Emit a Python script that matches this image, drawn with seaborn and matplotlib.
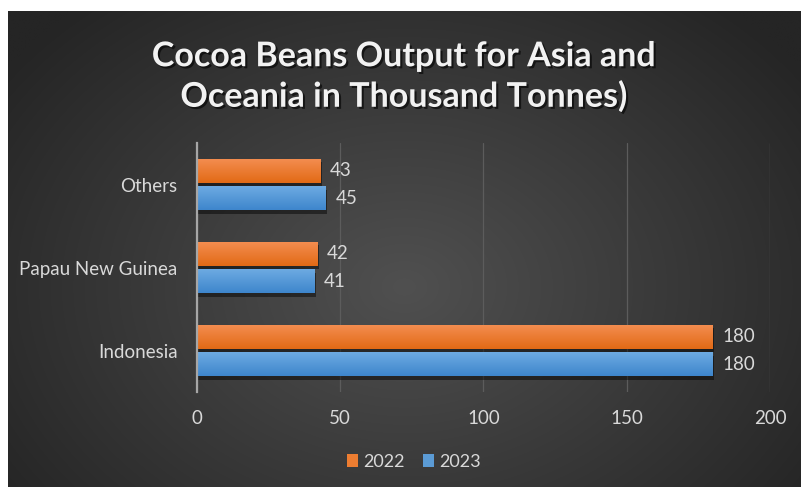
import numpy as np
import pandas as pd
import seaborn as sns
import matplotlib.pyplot as plt
import matplotlib.transforms as mtransforms
from matplotlib import patheffects as pe
from matplotlib.patches import Patch, Rectangle

# Data
regions = ["Others", "Papau New Guinea", "Indonesia"]
output_2022 = [43, 42, 180]
output_2023 = [45, 41, 180]
years = ["2022", "2023"]
x_ticks = [0, 50, 100, 150, 200]
title = "Cocoa Beans Output for Asia and\nOceania in Thousand Tonnes)"

df = pd.DataFrame({
    "Region": regions * 2,
    "Year": [years[0]] * len(regions) + [years[1]] * len(regions),
    "Output": output_2022 + output_2023,
})

sns.set_theme(style="dark")
plt.rcParams["font.family"] = ["Lato", "DejaVu Sans"]

ORANGE = "#ED7D31"
BLUE = "#5B9BD5"
LABEL = "#D9D9D9"

fig = plt.figure(figsize=(8.04, 4.87), dpi=100)
fig.patch.set_facecolor("white")

# Dark radial-gradient chart background
bg = fig.add_axes([8 / 804, 0, (801 - 8) / 804, (487 - 11) / 487])
bg.set_axis_off()
h, w = 400, 660
yy, xx = np.mgrid[0:1:h * 1j, 0:1:w * 1j]
r = np.clip(np.sqrt(((xx - 0.5) / 0.62) ** 2 + ((yy - 0.58) / 0.78) ** 2), 0, 1)
inner = np.array([0x50, 0x50, 0x50]) / 255
outer = np.array([0x25, 0x25, 0x25]) / 255
img = inner[None, None, :] * (1 - r[..., None]) + outer[None, None, :] * r[..., None]
bg.imshow(img, aspect="auto", extent=(0, 1, 0, 1), interpolation="bilinear")
bg.set_xlim(0, 1)
bg.set_ylim(0, 1)

# Plot area
ax = fig.add_axes([197 / 804, 95 / 487, (770 - 197) / 804, (392 - 143) / 487])
ax.patch.set_alpha(0)

sns.barplot(
    data=df, y="Region", x="Output", hue="Year",
    order=regions, hue_order=years,
    palette=[ORANGE, BLUE], saturation=1,
    width=0.66, gap=0.12, orient="h", ax=ax, legend=False,
    linewidth=0, edgecolor="none",
)

# Gradient fill and soft drop shadow on each bar
grads = {
    ORANGE: (np.array([0xF4, 0x8E, 0x52]), np.array([0xE2, 0x6A, 0x15])),
    BLUE: (np.array([0x6F, 0xAC, 0xE3]), np.array([0x3E, 0x86, 0xCC])),
}
shadow_tf = ax.transData + mtransforms.ScaledTranslation(1 / 72, -2.5 / 72, fig.dpi_scale_trans)
for container, col in zip(ax.containers, [ORANGE, BLUE]):
    top, bot = grads[col]
    t = np.linspace(0, 1, 64)[:, None]
    grad = (top[None, :] * (1 - t) + bot[None, :] * t) / 255
    grad = grad[:, None, :]
    for bar in container.patches:
        x0, y0 = bar.get_x(), bar.get_y()
        bw, bh = bar.get_width(), bar.get_height()
        shadow = Rectangle((x0, y0), bw, bh, transform=shadow_tf,
                           facecolor="black", edgecolor="none", alpha=0.45,
                           zorder=bar.get_zorder() - 0.2)
        ax.add_patch(shadow)
        im = ax.imshow(grad, aspect="auto", extent=(x0, x0 + bw, y0 + bh, y0),
                       interpolation="bilinear", zorder=bar.get_zorder() + 0.1)
        im.set_clip_path(bar)
    ax.bar_label(container, fmt="%g", padding=7, color=LABEL, fontsize=13.5)

ax.set_xlim(0, 200)
ax.set_ylim(2.5, -0.5)
ax.set_xticks(x_ticks)
ax.set_xlabel("")
ax.set_ylabel("")
ax.grid(axis="x", color="#5c5c5c", linewidth=0.9)
ax.grid(axis="y", visible=False)
ax.set_axisbelow(True)
for side in ["top", "right", "bottom"]:
    ax.spines[side].set_visible(False)
ax.spines["left"].set_color("#a6a6a6")
ax.spines["left"].set_linewidth(1.6)
ax.tick_params(axis="y", length=0, pad=14, labelsize=13.5, labelcolor=LABEL)
ax.tick_params(axis="x", length=0, pad=13, labelsize=13.5, labelcolor=LABEL)

# Title
fig.text(404 / 804, 1 - 76.5 / 487, title, ha="center", va="center",
         fontsize=24.5, fontweight="bold", color="#F2F2F2", linespacing=1.3,
         path_effects=[pe.withSimplePatchShadow(offset=(1.5, -1.5), shadow_rgbFace="black", alpha=0.6)])

# Legend
handles = [Patch(facecolor=ORANGE, edgecolor="none"), Patch(facecolor=BLUE, edgecolor="none")]
fig.legend(handles, years, loc="center", bbox_to_anchor=(414 / 804, 1 - 462 / 487),
           ncol=2, frameon=False, fontsize=13, labelcolor=LABEL,
           handlelength=0.6, handleheight=0.7, handletextpad=0.3, columnspacing=1.0)

fig.savefig("out.png", dpi=100, facecolor=fig.get_facecolor())
